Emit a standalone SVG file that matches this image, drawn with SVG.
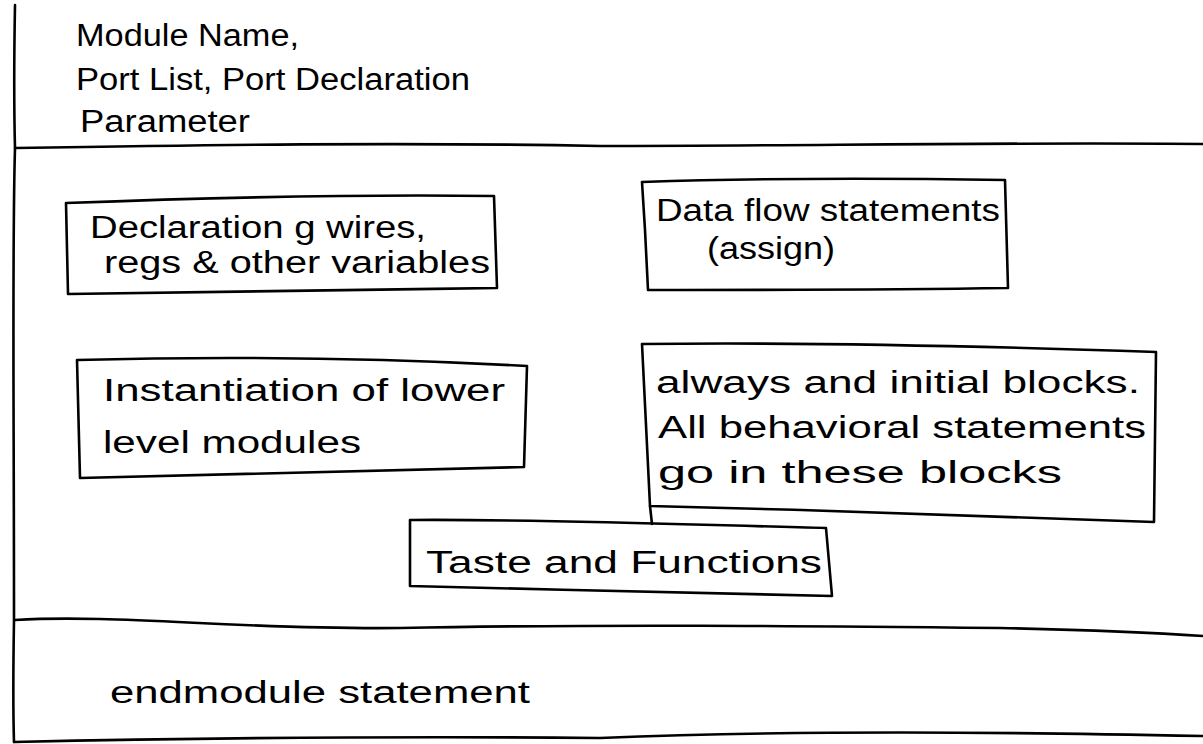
<svg xmlns="http://www.w3.org/2000/svg" width="1203" height="744" viewBox="0 0 1203 744">
<style>
.ln{fill:none;stroke:#000;stroke-width:2.6;stroke-linecap:round;stroke-linejoin:round}
.bx{fill:none;stroke:#000;stroke-width:2.6;stroke-linejoin:round}
text{font-family:"Liberation Sans",Arial,sans-serif;font-size:31px;fill:#000}
</style>
<rect width="1203" height="744" fill="#fff"/>
<g id="frame">
<path class="ln" d="M15,5 C14,60 14,110 15,148 C12,250 14,400 14,620 C13,680 13,710 14,742"/>
<path class="ln" d="M15,148 C200,145 400,142 600,146 C800,146 1000,142 1203,144"/>
<path class="ln" d="M15,620 C120,614 240,630 400,628 C600,624 800,626 1000,628 C1100,630 1160,633 1203,636"/>
<path class="ln" d="M14,742 C200,738 400,736 600,738 C800,730 1000,732 1203,736"/>
</g>
<g id="header">
<text x="76" y="46" textLength="223" lengthAdjust="spacingAndGlyphs">Module Name,</text>
<text x="76" y="90" textLength="394" lengthAdjust="spacingAndGlyphs">Port List, Port Declaration</text>
<text x="80" y="132" textLength="170" lengthAdjust="spacingAndGlyphs">Parameter</text>
</g>
<g id="node-declaration">
<path class="bx" d="M66,203 C200,198 350,194 494,196 L497,288 C350,290 200,292 68,294 Z"/>
<text x="90" y="238" textLength="336" lengthAdjust="spacingAndGlyphs">Declaration g wires,</text>
<text x="104" y="273" textLength="386" lengthAdjust="spacingAndGlyphs">regs &amp; other variables</text>
</g>
<g id="node-dataflow">
<path class="bx" d="M642,182 C760,178 880,178 1005,180 L1008,288 C880,290 760,290 648,290 L645,230 Z"/>
<text x="656" y="221" textLength="344" lengthAdjust="spacingAndGlyphs">Data flow statements</text>
<text x="707" y="259" textLength="128" lengthAdjust="spacingAndGlyphs">(assign)</text>
</g>
<g id="node-instantiation">
<path class="bx" d="M77,360 C230,356 380,358 527,366 L524,467 C380,470 230,474 80,478 Z"/>
<text x="103" y="401" textLength="402" lengthAdjust="spacingAndGlyphs">Instantiation of lower</text>
<text x="103" y="453" textLength="258" lengthAdjust="spacingAndGlyphs">level modules</text>
</g>
<g id="node-always">
<path class="bx" d="M642,344 C800,342 980,346 1156,352 L1154,522 C1000,516 820,510 650,506 Z"/>
<path class="ln" d="M650,506 L652,524"/>
<text x="656" y="393" textLength="484" lengthAdjust="spacingAndGlyphs">always and initial blocks.</text>
<text x="658" y="438" textLength="488" lengthAdjust="spacingAndGlyphs">All behavioral statements</text>
<text x="658" y="483" textLength="404" lengthAdjust="spacingAndGlyphs">go in these blocks</text>
</g>
<g id="node-tasks">
<path class="bx" d="M410,520 C550,519 700,525 826,528 L832,596 C700,592 550,590 410,586 Z"/>
<text x="426" y="573" textLength="396" lengthAdjust="spacingAndGlyphs">Taste and Functions</text>
</g>
<g id="footer">
<text x="110" y="703" textLength="420" lengthAdjust="spacingAndGlyphs">endmodule statement</text>
</g>
</svg>
